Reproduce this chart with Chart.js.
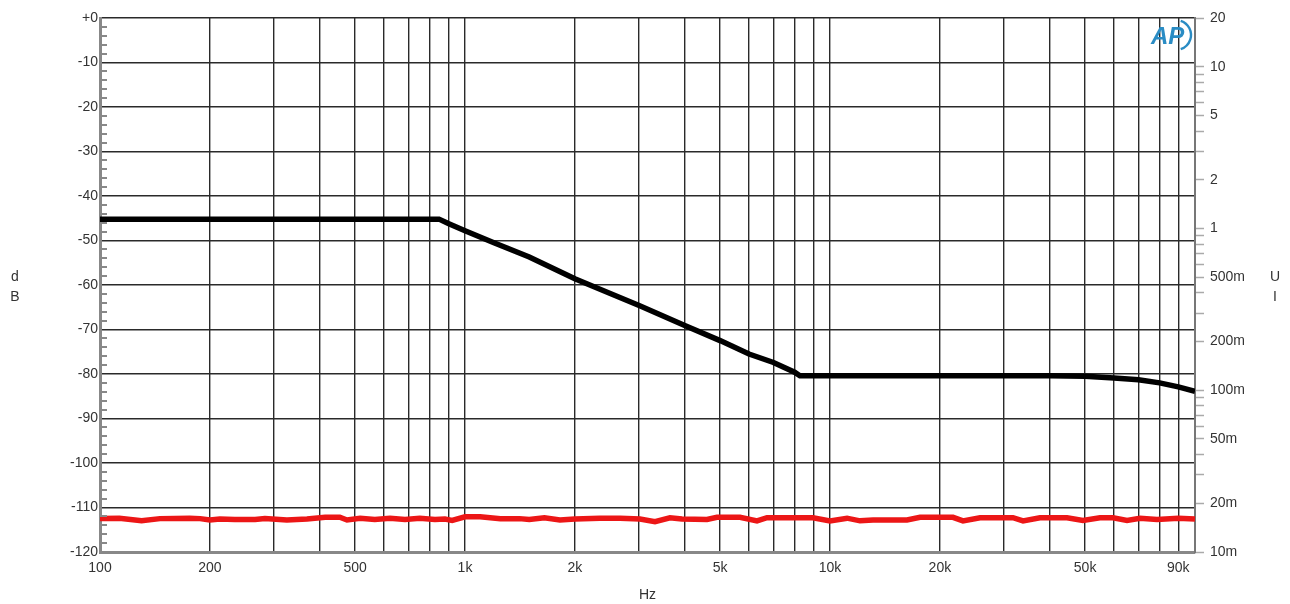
<!DOCTYPE html>
<html>
<head>
<meta charset="utf-8">
<title>Response</title>
<script src="https://cdn.jsdelivr.net/npm/chart.js@4.4.0/dist/chart.umd.min.js"></script>
<style>
  html, body { margin: 0; padding: 0; background: #fff; }
  #wrap { width: 1290px; height: 604px; position: relative; }
</style>
</head>
<body>
<div id="wrap"><canvas id="apChart"></canvas></div>
<script>
// frequency grid (every 1..9 per decade) and the labelled ones
const xGridValues = [100, 200, 300, 400, 500, 600, 700, 800, 900,
    1000, 2000, 3000, 4000, 5000, 6000, 7000, 8000, 9000,
    10000, 20000, 30000, 40000, 50000, 60000, 70000, 80000, 90000, 100000];
const xLabelValues = [100, 200, 500, 1000, 2000, 5000, 10000, 20000, 50000, 90000];
const xLabelTexts = ['100', '200', '500', '1k', '2k', '5k', '10k', '20k', '50k', '90k'];

// left axis (dB)
const yGridValues = [-120, -110, -100, -90, -80, -70, -60, -50, -40, -30, -20, -10, 0];
const yMinorValues = [-118, -116, -114, -112, -108, -106, -104, -102, -98, -96, -94, -92,
    -88, -86, -84, -82, -78, -76, -74, -72, -68, -66, -64, -62, -58, -56, -54, -52,
    -48, -46, -44, -42, -38, -36, -34, -32, -28, -26, -24, -22, -18, -16, -14, -12,
    -8, -6, -4, -2];

// right axis (UI, log)
const rightTickValues = [0.01, 0.02, 0.03, 0.04, 0.05, 0.06, 0.07, 0.08, 0.09,
    0.1, 0.2, 0.3, 0.4, 0.5, 0.6, 0.7, 0.8, 0.9,
    1, 2, 3, 4, 5, 6, 7, 8, 9, 10, 20];
const rightLabelValues = [0.01, 0.02, 0.05, 0.1, 0.2, 0.5, 1, 2, 5, 10, 20];
const rightLabelTexts = ['10m', '20m', '50m', '100m', '200m', '500m', '1', '2', '5', '10', '20'];

// black trace
const blackFreq = [100, 200, 500, 849, 900, 1000, 1200, 1500, 2000, 2500, 3000, 4000, 5000,
    6000, 7000, 8000, 8270, 10000, 20000, 40000, 50000, 60000, 70000, 80000, 90000, 100000];
const blackDb = [-45.2, -45.2, -45.2, -45.2, -46.2, -47.8, -50.5, -53.7, -58.6, -61.9, -64.6,
    -69.1, -72.5, -75.5, -77.4, -79.6, -80.4, -80.4, -80.4, -80.4, -80.5, -80.9, -81.3,
    -82.0, -82.9, -83.9];

// red trace
const redFreq = [100, 113, 130, 146, 176, 188, 200, 213, 234, 266, 283, 325, 369, 414, 454,
    475, 516, 566, 623, 685, 752, 827, 881, 922, 1000, 1100, 1250, 1410, 1500, 1650, 1820,
    2000, 2340, 2660, 3015, 3315, 3643, 3931, 4603, 4901, 5668, 6310, 6721, 7771, 8983,
    10000, 11135, 12085, 13117, 16255, 17650, 21730, 23140, 25770, 31720, 33800, 37600,
    44600, 49320, 54900, 59630, 65130, 70700, 78700, 90000, 100000];
const redDb = [-112.5, -112.4, -113.0, -112.5, -112.4, -112.5, -112.8, -112.6, -112.7, -112.7,
    -112.5, -112.8, -112.6, -112.2, -112.2, -112.8, -112.4, -112.7, -112.4, -112.7, -112.4,
    -112.7, -112.6, -112.9, -112.1, -112.1, -112.5, -112.5, -112.7, -112.3, -112.8,
    -112.6, -112.4, -112.4, -112.6, -113.2, -112.3, -112.6, -112.7, -112.2, -112.2, -113.0,
    -112.3, -112.3, -112.3, -113.0, -112.4, -113.0, -112.8, -112.8, -112.2, -112.2, -113.0,
    -112.3, -112.3, -113.0, -112.3, -112.3, -112.9, -112.3, -112.3, -112.9, -112.4, -112.7,
    -112.4, -112.6];

const FONT = 'Liberation Sans, Arial, Helvetica, sans-serif';
const TEXT = '#333';

const toPoints = (xs, ys) => xs.map((x, i) => ({ x: x, y: ys[i] }));

const extrasPlugin = {
    id: 'apExtras',
    afterDraw(chart) {
        const ctx = chart.ctx;
        const y = chart.scales.y;
        const area = chart.chartArea;
        ctx.save();

        // short inward ticks on the dB axis
        ctx.strokeStyle = '#888';
        ctx.lineWidth = 2;
        yMinorValues.forEach(v => {
            const py = Math.round(y.getPixelForValue(v));
            ctx.beginPath();
            ctx.moveTo(area.left, py);
            ctx.lineTo(area.left + 7, py);
            ctx.stroke();
        });

        // stacked unit letters
        ctx.fillStyle = TEXT;
        ctx.font = '14px ' + FONT;
        ctx.textAlign = 'center';
        ctx.textBaseline = 'middle';
        ctx.fillText('d', 15, 277);
        ctx.fillText('B', 15, 297);
        ctx.fillText('U', 1275, 277);
        ctx.fillText('I', 1275, 297);

        // AP logo
        ctx.fillStyle = '#2a8cc4';
        ctx.strokeStyle = '#2a8cc4';
        ctx.font = 'italic bold 24px ' + FONT;
        ctx.textAlign = 'left';
        ctx.fillText('AP', 1151, 37);
        ctx.lineWidth = 2.4;
        ctx.beginPath();
        ctx.arc(1176, 35, 15, -1.25, 1.25);
        ctx.stroke();

        ctx.restore();
    }
};

const chart = new Chart(document.getElementById('apChart'), {
    type: 'line',
    data: {
        datasets: [
            {
                label: 'Level',
                data: toPoints(blackFreq, blackDb),
                borderColor: '#000',
                borderWidth: 5.5,
                pointRadius: 0,
                tension: 0,
                yAxisID: 'y'
            },
            {
                label: 'Noise',
                data: toPoints(redFreq, redDb),
                borderColor: 'rgb(236, 22, 22)',
                borderWidth: 5.5,
                pointRadius: 0,
                tension: 0,
                yAxisID: 'y'
            }
        ]
    },
    options: {
        responsive: true,
        maintainAspectRatio: false,
        animation: false,
        layout: { padding: { top: 18, left: 0, right: 0, bottom: 0 } },
        plugins: {
            legend: { display: false },
            tooltip: { enabled: false }
        },
        scales: {
            x: {
                type: 'logarithmic',
                position: 'bottom',
                min: 100,
                max: 100000,
                afterBuildTicks: s => { s.ticks = xGridValues.map(v => ({ value: v })); },
                afterFit: s => { s.height = 52; },
                grid: { color: '#2a2a2a', lineWidth: 1.4, drawTicks: false },
                border: { display: true, color: '#888', width: 3 },
                ticks: {
                    autoSkip: false,
                    maxRotation: 0,
                    padding: 8,
                    color: TEXT,
                    font: { family: FONT, size: 14 },
                    callback: v => {
                        const i = xLabelValues.indexOf(v);
                        return i >= 0 ? xLabelTexts[i] : '';
                    }
                },
                title: {
                    display: true,
                    text: 'Hz',
                    color: TEXT,
                    padding: { top: 0, bottom: 0 },
                    font: { family: FONT, size: 14 }
                }
            },
            y: {
                type: 'linear',
                position: 'left',
                min: -120,
                max: 0,
                afterBuildTicks: s => { s.ticks = yGridValues.map(v => ({ value: v })); },
                afterFit: s => { s.width = 100; },
                grid: { color: '#2a2a2a', lineWidth: 1.4, drawTicks: false },
                border: { display: true, color: '#888', width: 3 },
                ticks: {
                    padding: 2,
                    color: TEXT,
                    font: { family: FONT, size: 14 },
                    callback: v => (v === 0 ? '+0' : String(v))
                }
            },
            yRight: {
                type: 'logarithmic',
                position: 'right',
                min: 0.01,
                max: 20,
                afterBuildTicks: s => { s.ticks = rightTickValues.map(v => ({ value: v })); },
                afterFit: s => { s.width = 95; },
                grid: {
                    drawOnChartArea: false,
                    drawTicks: true,
                    tickLength: 9,
                    tickColor: '#aaa',
                    tickWidth: 1.5
                },
                border: { display: true, color: '#777', width: 2 },
                ticks: {
                    autoSkip: false,
                    padding: 6,
                    color: TEXT,
                    font: { family: FONT, size: 14 },
                    callback: v => {
                        const i = rightLabelValues.findIndex(r => Math.abs(r - v) < 1e-9);
                        return i >= 0 ? rightLabelTexts[i] : '';
                    }
                }
            }
        }
    },
    plugins: [extrasPlugin]
});
</script>
</body>
</html>
